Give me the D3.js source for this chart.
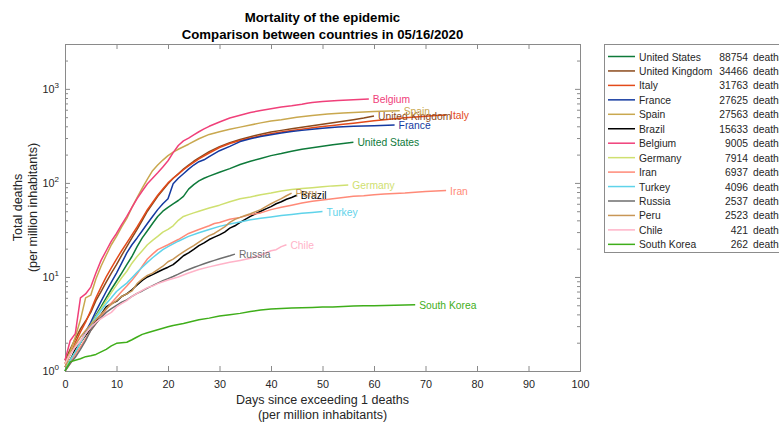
<!DOCTYPE html>
<html>
<head>
<meta charset="utf-8">
<script src="https://cdn.jsdelivr.net/npm/d3@7"></script>
<style>
  body { margin: 0; background: #fff; }
  svg { font-family: "Liberation Sans", Arial, sans-serif; }
</style>
</head>
<body>
<svg id="chart" width="779" height="423"></svg>
<script>
// countries in legend order, total deaths on 05/16/2020
const countries = ["United States", "United Kingdom", "Italy", "France", "Spain", "Brazil", "Belgium",
  "Germany", "Iran", "Turkey", "Russia", "Peru", "Chile", "South Korea"];
const totals = [88754, 34466, 31763, 27625, 27563, 15633, 9005, 7914, 6937, 4096, 2537, 2523, 421, 262];
const colors = ["#0e7a3a", "#8b4a1c", "#e34a1a", "#1439a0", "#c9a84f", "#000000", "#f0407a",
  "#cfe070", "#ff8a78", "#5fd3ea", "#6e6e6e", "#c89656", "#ffb3c8", "#3fae1a"];

// [day, deaths per million]
const usa = [[0,1.1],[1,1.3],[2,1.6],[3,2.0],[4,2.5],[5,3.1],[6,3.9],[7,4.8],[8,6],[9,7.4],[10,9],[11,11],[12,13.5],[13,16.5],[14,21],[15,26],[16,31],[17,37],[18,44],[19,50],[20,55],[21,60],[22,65],[23,72],[24,86],[25,96],[26,105],[27,112],[28,118],[30,130],[32,142],[34,157],[36,170],[38,182],[40,195],[42,205],[44,217],[46,228],[48,236],[50,245],[52,255],[54,263],[56,270]];
const uk = [[0,1.3],[1,1.7],[2,2.2],[3,2.8],[4,3.4],[5,4.2],[6,5.6],[7,7],[8,8.8],[9,11],[10,13.5],[11,17],[12,21],[13,26],[14,32],[15,40],[16,50],[17,60],[18,72],[19,84],[20,98],[21,112],[22,125],[23,140],[24,155],[25,170],[26,185],[28,215],[30,243],[32,268],[34,290],[36,310],[38,330],[40,347],[42,362],[44,376],[46,390],[48,405],[50,420],[52,436],[54,452],[56,470],[58,490],[60,515]];
const italy = [[0,1.2],[1,1.5],[2,2.0],[3,2.6],[4,3.3],[5,4.4],[6,6.0],[7,7.8],[8,10],[9,12.5],[10,15.5],[11,19],[12,23],[13,28],[14,34],[15,42],[16,52],[17,62],[18,74],[19,86],[20,100],[21,112],[22,124],[23,138],[24,152],[25,165],[26,180],[28,208],[30,238],[32,262],[34,283],[36,300],[38,318],[40,333],[42,347],[44,360],[46,373],[48,385],[50,397],[52,408],[54,420],[56,432],[58,445],[60,458],[62,470],[64,482],[66,493],[68,503],[70,513],[72,520],[74,526]];
const france = [[0,1.1],[1,1.3],[2,1.6],[3,2.0],[4,2.6],[5,3.3],[6,4.3],[7,5.5],[8,7],[9,8.8],[10,11],[11,14],[12,18],[13,22],[14,26],[15,31],[16,37],[17,44],[18,52],[19,60],[20,68],[21,98],[22,112],[23,125],[24,140],[25,155],[26,168],[27,176],[28,190],[30,220],[32,245],[34,275],[36,295],[38,312],[40,325],[42,340],[44,352],[46,362],[48,372],[50,381],[53,392],[56,400],[60,406],[64,412]];
const spain = [[0,1.2],[1,1.6],[2,2.3],[3,3.5],[4,6.0],[5,6.4],[6,9.5],[7,13],[8,17],[9,22],[10,27],[11,34],[12,42],[13,55],[14,70],[15,88],[16,110],[17,135],[18,155],[19,175],[20,195],[21,212],[22,228],[24,258],[26,295],[28,328],[30,350],[32,372],[34,392],[36,412],[38,435],[40,455],[42,470],[45,498],[48,520],[51,540],[54,555],[57,565],[60,575],[63,583],[65,587]];
const brazil = [[0,1.0],[1,1.3],[2,1.7],[3,2.0],[4,2.4],[5,2.8],[6,3.4],[7,4.0],[8,4.8],[9,5.2],[10,5.5],[11,6.2],[12,6.6],[13,7.3],[14,8.2],[15,9.2],[16,10],[17,10.6],[18,11.3],[19,12],[20,12.7],[21,13.5],[22,15],[23,16.8],[24,18],[25,19.6],[26,21.5],[27,23],[28,25],[29,26.5],[30,28],[31,30],[32,33],[33,35],[34,38],[35,41],[36,44],[37,47],[38,50],[39,53],[40,56],[41,60],[42,63],[43,67],[44,70],[45,74]];
const belgium = [[0,1.3],[1,2.1],[2,2.5],[3,6.0],[4,6.6],[5,7.8],[6,11],[7,15],[8,19],[9,24],[10,29],[11,36],[12,44],[13,55],[14,68],[15,82],[16,98],[17,112],[18,128],[19,148],[20,172],[21,210],[22,250],[23,280],[24,300],[25,325],[26,350],[27,375],[28,400],[30,445],[32,490],[34,525],[36,560],[38,590],[40,615],[42,640],[44,660],[46,685],[47,705],[48,718],[50,735],[53,752],[56,768],[59,781]];
const germany = [[0,1.1],[1,1.3],[2,1.6],[3,2.0],[4,2.5],[5,3.1],[6,3.8],[7,4.6],[8,5.6],[9,6.8],[10,8.2],[11,9.8],[12,11.5],[13,14],[14,16.5],[15,19],[16,22],[17,24.5],[18,27],[19,30],[20,32],[21,35],[22,40],[23,44],[24,46],[25,48],[26,50],[28,54],[30,58],[32,63],[34,68],[36,71],[38,75],[40,78],[42,82],[44,85],[46,87],[48,89],[50,91],[52,93],[55,95]];
const iran = [[0,1.0],[1,1.2],[2,1.5],[3,1.8],[4,2.2],[5,2.7],[6,3.2],[7,3.8],[8,4.5],[9,5.3],[10,6.1],[11,7],[12,8],[13,9.2],[14,10.8],[15,13],[16,15.5],[17,17.5],[18,19.5],[20,22],[22,25],[24,29],[26,32],[28,35],[29,37],[30,38],[32,41],[34,43],[36,46],[38,48],[40,52],[42,55],[44,58],[46,61],[48,64],[50,66],[52,68],[54,70],[56,72],[58,73],[60,75],[62,76],[64,77],[66,78],[68,79.5],[70,81],[72,82],[74,83]];
const turkey = [[0,1.0],[1,1.3],[2,1.6],[3,2.0],[4,2.5],[5,3.0],[6,3.7],[7,4.4],[8,5.2],[9,6.0],[10,7.0],[11,7.8],[12,8.6],[13,9.8],[14,11.2],[15,12.7],[16,14.3],[17,16],[18,17.7],[19,19.5],[20,21],[22,24],[24,27],[26,29.5],[28,32],[30,34.5],[32,36.5],[34,38.5],[36,40.5],[38,42],[40,43.5],[42,45],[44,46.2],[46,47.5],[48,48.6],[50,49.6]];
const russia = [[0,1.0],[1,1.2],[2,1.4],[3,1.7],[4,2.1],[5,2.7],[6,3.2],[7,3.7],[8,4.2],[9,4.6],[10,5.0],[11,5.4],[12,5.7],[13,6.2],[14,6.7],[15,7.1],[16,7.6],[17,8.1],[18,8.6],[19,9.1],[20,9.6],[21,10.1],[22,10.7],[23,11.4],[24,12],[25,12.6],[26,13.2],[27,13.8],[28,14.4],[29,15],[30,15.6],[31,16.2],[32,16.8],[33,17.5]];
const peru = [[0,1.1],[1,1.5],[2,1.9],[3,2.3],[4,2.7],[5,3.1],[6,3.5],[7,4.0],[8,4.6],[9,5.1],[10,5.6],[11,6.2],[12,6.6],[13,7.1],[14,8.5],[15,9.5],[16,10.4],[17,11],[18,12],[19,13],[20,14.5],[21,15.5],[22,17],[23,18.5],[24,20],[25,21.5],[26,23.5],[27,25.5],[28,27.5],[29,29],[30,31.5],[31,34],[32,38],[33,41],[34,43],[35,45],[36,47],[37,49.5],[38,52],[39,56],[40,60],[41,64],[42,68],[43,73],[44,78]];
const chile = [[0,1.2],[1,1.5],[2,1.8],[3,2.1],[4,2.5],[5,2.9],[6,3.3],[7,3.6],[8,3.9],[9,4.2],[10,4.8],[11,5.2],[12,5.6],[13,6.2],[14,6.7],[15,7.2],[16,7.7],[17,8.0],[18,8.5],[19,8.9],[20,9.3],[22,10],[24,11],[26,12],[28,12.8],[30,13.6],[32,14.3],[34,15],[36,15.8],[38,17],[39,18],[40,19],[41,19.5],[42,21],[43,22]];
const southKorea = [[0,1.0],[1,1.25],[2,1.3],[3,1.35],[4,1.42],[5,1.45],[6,1.5],[7,1.6],[8,1.7],[9,1.85],[10,1.97],[11,2.0],[12,2.02],[13,2.15],[14,2.3],[15,2.45],[16,2.55],[17,2.65],[18,2.75],[19,2.85],[20,2.95],[21,3.05],[22,3.12],[23,3.2],[24,3.3],[26,3.5],[28,3.65],[30,3.85],[32,3.97],[34,4.1],[36,4.3],[38,4.45],[40,4.55],[42,4.62],[44,4.67],[46,4.7],[48,4.73],[50,4.78],[52,4.8],[54,4.85],[56,4.9],[58,4.93],[60,4.95],[62,4.98],[64,5.0],[66,5.03],[68,5.07]];

const seriesList = [usa, uk, italy, france, spain, brazil, belgium, germany, iran, turkey, russia, peru, chile, southKorea];

const xTicks = d3.range(0, 101, 10);
const yMajor = [1, 10, 100, 1000];

const svg = d3.select("#chart");
const mLeft = 65, mRight = 580, mTop = 44, mBottom = 371;
const axisCol = "#8a8a8a", textCol = "#262626";
const smallFont = "10.3px";

const x = d3.scaleLinear().domain([0, 100]).range([mLeft, mRight]);
const y = d3.scaleLog().domain([1, 3000]).range([mBottom, mTop]);

// minor log ticks
let yMinor = [];
yMajor.forEach(p => { for (let k = 2; k <= 9; k++) if (p * k <= 3000) yMinor.push(p * k); });

// x axes bottom + top, ticks inward
const gxb = svg.append("g").attr("transform", `translate(0,${mBottom})`)
  .call(d3.axisBottom(x).tickValues(xTicks).tickSize(-5).tickPadding(9));
const gxt = svg.append("g").attr("transform", `translate(0,${mTop})`)
  .call(d3.axisTop(x).tickValues(xTicks).tickSize(-5).tickFormat(""));
// y axes left + right
const gyl = svg.append("g").attr("transform", `translate(${mLeft},0)`)
  .call(d3.axisLeft(y).tickValues(yMajor).tickSize(-5).tickFormat(""));
const gyr = svg.append("g").attr("transform", `translate(${mRight},0)`)
  .call(d3.axisRight(y).tickValues(yMajor).tickSize(-5).tickFormat(""));
const gylm = svg.append("g").attr("transform", `translate(${mLeft},0)`)
  .call(d3.axisLeft(y).tickValues(yMinor).tickSize(-3).tickFormat(""));
const gyrm = svg.append("g").attr("transform", `translate(${mRight},0)`)
  .call(d3.axisRight(y).tickValues(yMinor).tickSize(-3).tickFormat(""));

[gxb, gxt, gyl, gyr, gylm, gyrm].forEach(g => {
  g.selectAll("path.domain").attr("stroke", axisCol);
  g.selectAll(".tick line").attr("stroke", axisCol);
});
gylm.select("path.domain").remove();
gyrm.select("path.domain").remove();
gxb.selectAll(".tick text").attr("fill", textCol).style("font-size", "10.8px")
  .style("font-family", '"Liberation Sans", Arial, sans-serif');

// y tick labels as 10^n
yMajor.forEach(v => {
  const t = svg.append("text").attr("x", mLeft - 6).attr("y", y(v) + 4)
    .attr("text-anchor", "end").attr("fill", textCol).style("font-size", "10.8px");
  t.append("tspan").text("10");
  t.append("tspan").attr("dy", -5).style("font-size", "8px").text(Math.round(Math.log10(v)));
});

// lines
const line = d3.line().x(d => x(d[0])).y(d => y(d[1]));
const gLines = svg.append("g");
seriesList.forEach((s, i) => {
  gLines.append("path").datum(s).attr("d", line)
    .attr("fill", "none").attr("stroke", colors[i]).attr("stroke-width", 1.5)
    .attr("stroke-linejoin", "round");
});
// end labels
seriesList.forEach((s, i) => {
  const last = s[s.length - 1];
  svg.append("text").attr("x", x(last[0]) + 4).attr("y", y(last[1]) + 4)
    .attr("fill", colors[i]).style("font-size", smallFont).text(countries[i]);
});

// titles
const cx = (mLeft + mRight) / 2;
svg.append("text").attr("x", cx).attr("y", 22).attr("text-anchor", "middle")
  .style("font-weight", "bold").style("font-size", "13.2px").attr("fill", "#000")
  .text("Mortality of the epidemic");
svg.append("text").attr("x", cx).attr("y", 39).attr("text-anchor", "middle")
  .style("font-weight", "bold").style("font-size", "13.2px").attr("fill", "#000")
  .text("Comparison between countries in 05/16/2020");

svg.append("text").attr("x", cx).attr("y", 404).attr("text-anchor", "middle")
  .attr("fill", textCol).style("font-size", "12.5px").text("Days since exceeding 1 deaths");
svg.append("text").attr("x", cx).attr("y", 419).attr("text-anchor", "middle")
  .attr("fill", textCol).style("font-size", "12.5px").text("(per million inhabitants)");

const cy = (mTop + mBottom) / 2;
svg.append("text").attr("transform", `translate(22,${cy}) rotate(-90)`).attr("text-anchor", "middle")
  .attr("fill", textCol).style("font-size", "12.5px").text("Total deaths");
svg.append("text").attr("transform", `translate(37,${cy}) rotate(-90)`).attr("text-anchor", "middle")
  .attr("fill", textCol).style("font-size", "12.5px").text("(per million inhabitants)");

// legend
const lg = svg.append("g");
lg.append("rect").attr("x", 604.5).attr("y", 44.5).attr("width", 220).attr("height", 208)
  .attr("fill", "#fff").attr("stroke", "#8c8c8c");
countries.forEach((c, i) => {
  const ry = 56.5 + i * 14.45;
  lg.append("line").attr("x1", 608).attr("x2", 635).attr("y1", ry).attr("y2", ry)
    .attr("stroke", colors[i]).attr("stroke-width", 1.5);
  lg.append("text").attr("x", 639).attr("y", ry + 4).attr("fill", textCol)
    .style("font-size", smallFont).text(c);
  lg.append("text").attr("x", 748).attr("y", ry + 4).attr("text-anchor", "end").attr("fill", textCol)
    .style("font-size", smallFont).text(totals[i]);
  lg.append("text").attr("x", 753).attr("y", ry + 4).attr("fill", textCol)
    .style("font-size", smallFont).text("deaths");
});
</script>
</body>
</html>
